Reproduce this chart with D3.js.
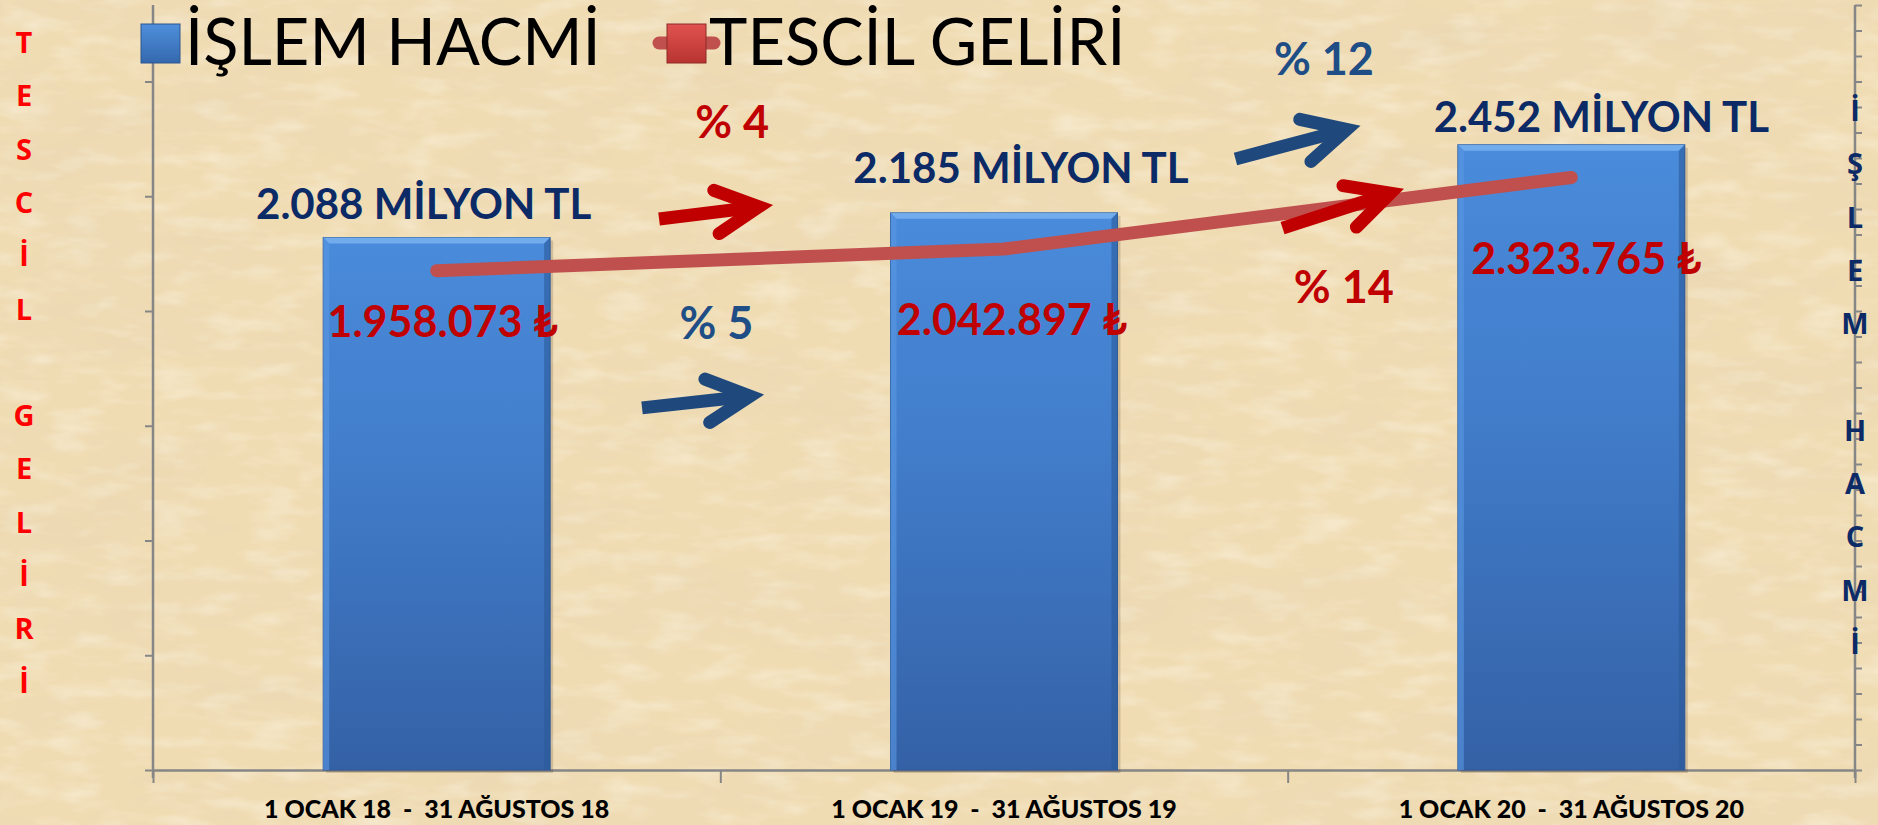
<!DOCTYPE html>
<html><head><meta charset="utf-8">
<script src="https://cdn.jsdelivr.net/npm/d3@7"></script>
<style>html,body{margin:0;padding:0;background:#efdbb2;overflow:hidden}</style>
</head><body><svg id="chart" width="1878" height="825"></svg>
<script>
// ---------- data ----------
const categories = ["1 OCAK 18  -  31 AĞUSTOS 18", "1 OCAK 19  -  31 AĞUSTOS 19", "1 OCAK 20  -  31 AĞUSTOS 20"];
const islemHacmi = [2088, 2185, 2452];                 // milyon TL
const islemLabels = ["2.088 MİLYON TL", "2.185 MİLYON TL", "2.452 MİLYON TL"];
const tescilGeliri = [1958073, 2042897, 2323765];      // ₺
const tescilLabels = ["1.958.073 ₺", "2.042.897 ₺", "2.323.765 ₺"];
const volumeTicks = d3.range(0, 3001, 100);
const revenueTicks = d3.range(0, 2700001, 450000);
const legendNames = ["İŞLEM HACMİ", "TESCİL GELİRİ"];
const leftTitle = "TESCİL GELİRİ";
const rightTitle = "İŞLEM HACMİ";
const changeTexts = ["% 4", "% 5", "% 12", "% 14"];
const changeSeries = ["revenue", "volume", "volume", "revenue"];

// ---------- layout (annotation placement, in category-index / volume units) ----------
const arrowLayout = [
  {x0: 0.392, y0: 2161, x1: 0.568, y1: 2209, tx: 0.521, ty: 2478},
  {x0: 0.362, y0: 1420, x1: 0.552, y1: 1466, tx: 0.493, ty: 1690},
  {x0: 1.408, y0: 2396, x1: 1.604, y1: 2512, tx: 1.564, ty: 2725},
  {x0: 1.491, y0: 2125, x1: 1.681, y1: 2262, tx: 1.599, ty: 1831}
];
const islemLabelOffset = [[-13, -19], [17, -30], [30, -13]];
const tescilLabelOffset = [[6, 66], [8, 86], [15, 97]];

const W = 1878, H = 825;
const M = {left: 153, right: 1855, top: 5, bottom: 770};
const RED_TXT = "#c00000", NAVY = "#0b2a66", BLUE_TXT = "#1f4e86", BLUE_ARR = "#1f497d", LINE_RED = "#c0504d";

const svg = d3.select("#chart");
const defs = svg.append("defs");

// parchment texture
const f = defs.append("filter").attr("id", "parch").attr("x", 0).attr("y", 0).attr("width", "100%").attr("height", "100%");
f.append("feTurbulence").attr("type", "fractalNoise").attr("baseFrequency", "0.005 0.014").attr("numOctaves", 5).attr("seed", 7).attr("result", "n");
f.append("feColorMatrix").attr("in", "n").attr("type", "matrix")
  .attr("values", "0 0 0 0 0.80  0 0 0 0 0.66  0 0 0 0 0.45  1.1 0 0 0 -0.48");
const f2 = defs.append("filter").attr("id", "parch2").attr("x", 0).attr("y", 0).attr("width", "100%").attr("height", "100%");
f2.append("feTurbulence").attr("type", "fractalNoise").attr("baseFrequency", "0.02 0.06").attr("numOctaves", 3).attr("seed", 3).attr("result", "n");
f2.append("feColorMatrix").attr("in", "n").attr("type", "matrix")
  .attr("values", "0 0 0 0 0.99  0 0 0 0 0.95  0 0 0 0 0.85  0.9 0 0 0 -0.42");

svg.append("rect").attr("width", W).attr("height", H).attr("fill", "#f0dcb3");
svg.append("rect").attr("width", W).attr("height", H).attr("filter", "url(#parch)");
svg.append("rect").attr("width", W).attr("height", H).attr("filter", "url(#parch2)");

// gradients
const gBar = defs.append("linearGradient").attr("id", "barGrad").attr("x1", 0).attr("y1", 0).attr("x2", 0).attr("y2", 1);
gBar.append("stop").attr("offset", "0").attr("stop-color", "#4a8bdb");
gBar.append("stop").attr("offset", "0.45").attr("stop-color", "#417cc9");
gBar.append("stop").attr("offset", "1").attr("stop-color", "#3461a6");
const gRed = defs.append("linearGradient").attr("id", "redGrad").attr("x1", 0).attr("y1", 0).attr("x2", 0).attr("y2", 1);
gRed.append("stop").attr("offset", "0").attr("stop-color", "#e0524f");
gRed.append("stop").attr("offset", "1").attr("stop-color", "#b83431");
const gBlueL = defs.append("linearGradient").attr("id", "blueLeg").attr("x1", 0).attr("y1", 0).attr("x2", 0).attr("y2", 1);
gBlueL.append("stop").attr("offset", "0").attr("stop-color", "#4f8fdc");
gBlueL.append("stop").attr("offset", "1").attr("stop-color", "#3468ad");

// ---------- scales ----------
const x = d3.scaleBand().domain(categories).range([M.left, M.right]).paddingInner(0.6).paddingOuter(0.3);
const yVol = d3.scaleLinear().domain([0, 3000]).range([M.bottom, M.top]);
const yRev = d3.scaleLinear().domain([0, 3000000]).range([M.bottom, M.top]);
const cx = i => x(categories[i]) + x.bandwidth() / 2;
const xIdx = d3.scaleLinear().domain([0, 1]).range([cx(0), cx(1)]);

// ---------- axes ----------
const axisColor = "#868686";
const gl = svg.append("g").attr("transform", `translate(${M.left},0)`)
  .call(d3.axisLeft(yRev).tickValues(revenueTicks).tickSize(8).tickSizeOuter(0).tickFormat(""));
const gr = svg.append("g").attr("transform", `translate(${M.right},0)`)
  .call(d3.axisRight(yVol).tickValues(volumeTicks).tickSize(7).tickSizeOuter(0).tickFormat(""));
const xEdges = d3.scaleLinear().domain([0, categories.length]).range([M.left, M.right]);
const gb = svg.append("g").attr("transform", `translate(0,${M.bottom})`)
  .call(d3.axisBottom(xEdges).tickValues(d3.range(0, categories.length + 1)).tickSize(13).tickSizeOuter(0).tickFormat(""));
[gl, gr, gb].forEach(g => {
  g.selectAll("path.domain").attr("stroke", axisColor).attr("stroke-width", 2.5);
  g.selectAll(".tick line").attr("stroke", axisColor).attr("stroke-width", 2);
});
gl.select("path.domain").attr("d", `M0,${M.top}V${M.bottom + 8}`);
gr.select("path.domain").attr("d", `M0,${M.top}V${M.bottom + 8}`);

// ---------- bars ----------
const bars = svg.append("g");
islemHacmi.forEach((v, i) => {
  const bx = x(categories[i]), bw = x.bandwidth(), by = yVol(v), bh = yVol(0) - yVol(v);
  const g = bars.append("g");
  g.append("rect").attr("x", bx + 3).attr("y", by + 3).attr("width", bw).attr("height", bh).attr("fill", "rgba(60,40,20,0.18)");
  g.append("rect").attr("x", bx).attr("y", by).attr("width", bw).attr("height", bh).attr("fill", "url(#barGrad)")
    .attr("stroke", "#2f5b97").attr("stroke-width", 1);
  const b = 6;
  g.append("path").attr("d", `M${bx},${by}H${bx + bw}L${bx + bw - b},${by + b}H${bx + b}Z`).attr("fill", "#79b2f0").attr("opacity", 0.85);
  g.append("path").attr("d", `M${bx},${by}L${bx + b},${by + b}V${by + bh}H${bx}Z`).attr("fill", "#5a98e2").attr("opacity", 0.6);
  g.append("path").attr("d", `M${bx + bw},${by}L${bx + bw - b},${by + b}V${by + bh}H${bx + bw}Z`).attr("fill", "#2c5a99").attr("opacity", 0.6);
});

// ---------- line ----------
const line = d3.line().x((d, i) => cx(i)).y(d => yRev(d)).curve(d3.curveLinear);
svg.append("path").datum(tescilGeliri).attr("d", line).attr("fill", "none")
  .attr("stroke", LINE_RED).attr("stroke-width", 13).attr("stroke-linecap", "round").attr("stroke-linejoin", "round");

// ---------- arrows ----------
function arrow(a, color) {
  const X0 = xIdx(a.x0), Y0 = yVol(a.y0), X1 = xIdx(a.x1), Y1 = yVol(a.y1);
  const ang = Math.atan2(Y1 - Y0, X1 - X0);
  const L = 48, spread = 27 * Math.PI / 180;
  const p1 = [X1 - L * Math.cos(ang - spread), Y1 - L * Math.sin(ang - spread)];
  const p2 = [X1 - L * Math.cos(ang + spread), Y1 - L * Math.sin(ang + spread)];
  const g = svg.append("g");
  g.append("line").attr("x1", X0).attr("y1", Y0).attr("x2", X1 - 6 * Math.cos(ang)).attr("y2", Y1 - 6 * Math.sin(ang))
    .attr("stroke", color).attr("stroke-width", 13).attr("stroke-linecap", "butt");
  g.append("path").attr("d", `M${p1[0]},${p1[1]}L${X1},${Y1}L${p2[0]},${p2[1]}`).attr("fill", "none")
    .attr("stroke", color).attr("stroke-width", 13).attr("stroke-linecap", "round").attr("stroke-linejoin", "miter");
}
arrowLayout.forEach((a, i) => arrow(a, changeSeries[i] === "revenue" ? "#c00000" : BLUE_ARR));

// ---------- text labels ----------
const FONT = "Lato, 'Open Sans', sans-serif";
islemHacmi.forEach((v, i) => {
  svg.append("text").attr("x", cx(i) + islemLabelOffset[i][0]).attr("y", yVol(v) + islemLabelOffset[i][1])
    .attr("text-anchor", "middle").attr("font-family", FONT).attr("font-weight", 700).attr("font-size", 42)
    .attr("fill", NAVY).text(islemLabels[i]);
});
tescilGeliri.forEach((v, i) => {
  svg.append("text").attr("x", cx(i) + tescilLabelOffset[i][0]).attr("y", yRev(v) + tescilLabelOffset[i][1])
    .attr("text-anchor", "middle").attr("font-family", FONT).attr("font-weight", 700).attr("font-size", 43)
    .attr("fill", RED_TXT).text(tescilLabels[i]);
});
arrowLayout.forEach((a, i) => {
  svg.append("text").attr("x", xIdx(a.tx)).attr("y", yVol(a.ty))
    .attr("text-anchor", "middle").attr("font-family", FONT).attr("font-weight", 700).attr("font-size", 45)
    .attr("fill", changeSeries[i] === "revenue" ? RED_TXT : BLUE_TXT).text(changeTexts[i]);
});

// category labels
categories.forEach((c, i) => {
  svg.append("text").attr("x", cx(i)).attr("y", 818).attr("text-anchor", "middle")
    .attr("font-family", FONT).attr("font-weight", 900).attr("font-size", 25).attr("fill", "#000")
    .style("white-space", "pre").text(c);
});

// vertical titles
function vertical(txt, xpos, y0, color) {
  const chars = Array.from(txt);
  chars.forEach((ch, k) => {
    if (ch === " ") return;
    svg.append("text").attr("x", xpos).attr("y", y0 + k * 53.3).attr("text-anchor", "middle")
      .attr("font-family", "'Open Sans', Lato, sans-serif").attr("font-weight", 700).attr("font-size", 29)
      .attr("fill", color).text(ch);
  });
}
vertical(leftTitle, 24, 53, "#ff0000");
vertical(rightTitle, 1855, 121, "#0b2a66");

// legend
const legY = 43;
const lg = svg.append("g");
lg.append("rect").attr("x", 141).attr("y", legY - 19).attr("width", 39).attr("height", 39).attr("fill", "url(#blueLeg)").attr("stroke", "#2c5790");
lg.append("text").attr("x", 185).attr("y", 65).attr("font-family", FONT).attr("font-size", 65).attr("fill", "#000").text(legendNames[0]);
lg.append("line").attr("x1", 659).attr("x2", 714).attr("y1", legY).attr("y2", legY).attr("stroke", LINE_RED).attr("stroke-width", 13).attr("stroke-linecap", "round");
lg.append("rect").attr("x", 667).attr("y", legY - 19).attr("width", 39).attr("height", 39).attr("fill", "url(#redGrad)").attr("stroke", "#8e2a28");
lg.append("text").attr("x", 709).attr("y", 65).attr("font-family", FONT).attr("font-size", 65).attr("fill", "#000").text(legendNames[1]);
</script></body></html>
